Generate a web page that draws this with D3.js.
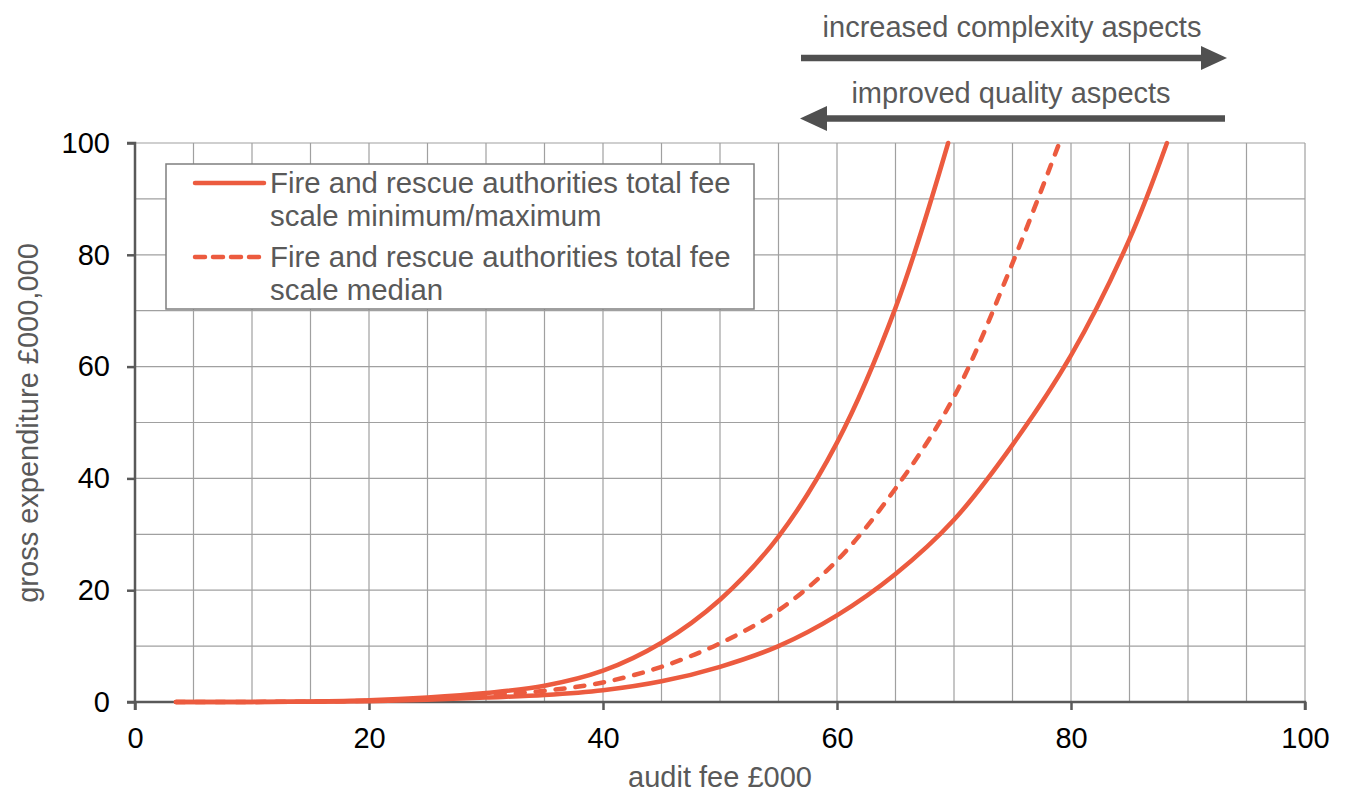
<!DOCTYPE html>
<html><head><meta charset="utf-8">
<script src="https://cdn.jsdelivr.net/npm/d3@7"></script>
<style>body{margin:0;background:#fff;font-family:"Liberation Sans",Arial,sans-serif;}</style>
</head><body><svg id="c" width="1346" height="794"></svg>
<script>
// Data
const maxX = [3.5,10,15,20,25,30,35,40,45,50,55,60,65,69.5];
const maxY = [0,0.02,0.08,0.3,0.8,1.6,2.9,5.6,10.6,18.3,29.6,46.4,70.5,100];
const medX = [3.5,10,15,20,25,30,35,40,45,50,55,60,65,70,75,79];
const medY = [0,0.02,0.06,0.25,0.6,1.2,2.0,3.5,6.3,10.5,16.4,25.3,38.2,54.6,78.5,100];
const minX = [3.5,10,15,20,25,30,35,40,45,50,55,60,65,70,75,80,85,88.2];
const minY = [0,0.01,0.04,0.15,0.4,0.8,1.25,2.1,3.7,6.3,10.0,15.5,22.9,32.6,46,62,82.8,100];
const xTicks = [0,20,40,60,80,100];
const yTicks = [0,20,40,60,80,100];
const legendLabels = [["Fire and rescue authorities total fee","scale minimum/maximum"],["Fire and rescue authorities total fee","scale median"]];
const xTitle = "audit fee £000";
const yTitle = "gross expenditure £000,000";
const arrowLabels = ["increased complexity aspects","improved quality aspects"];

const svg = d3.select("#c");
const L=135,R=1305,T=143,B=702;
const FS=29;
const x = d3.scaleLinear().domain([0,100]).range([L,R]);
const y = d3.scaleLinear().domain([0,100]).range([B,T]);
const red="#EC5B3F", gridC="#a0a0a0", axC="#595959", txtC="#595959";

// grid
svg.append("g").selectAll("line").data(d3.range(5,101,5)).join("line")
  .attr("x1",d=>x(d)).attr("x2",d=>x(d)).attr("y1",T).attr("y2",B)
  .attr("stroke",gridC).attr("stroke-width",1.2);
svg.append("g").selectAll("line").data(d3.range(10,101,10)).join("line")
  .attr("x1",L).attr("x2",R).attr("y1",d=>y(d)).attr("y2",d=>y(d))
  .attr("stroke",gridC).attr("stroke-width",1.2);

// axes
const xa = svg.append("g").attr("transform",`translate(0,${B})`)
  .call(d3.axisBottom(x).tickValues(xTicks).tickSize(8).tickPadding(17));
const ya = svg.append("g").attr("transform",`translate(${L},0)`)
  .call(d3.axisLeft(y).tickValues(yTicks).tickSize(8).tickPadding(17));
[xa,ya].forEach(a=>{
  a.select(".domain").attr("stroke",axC).attr("stroke-width",2.5);
  a.selectAll(".tick line").attr("stroke",axC).attr("stroke-width",2.5);
  a.selectAll(".tick text").attr("fill","#000").attr("font-size",FS).attr("font-family","Liberation Sans, Arial, sans-serif");
});
ya.select(".domain").attr("d",`M-8,${T}H0V${B}H-8`);
xa.select(".domain").attr("d",`M${L},8V0H${R}V8`);

// curves
const line = d3.line().x(d=>x(d[0])).y(d=>y(d[1])).curve(d3.curveCatmullRom.alpha(0.5));
const dash = "9,11";
const series = [
  {xs:maxX, ys:maxY, dash:null},
  {xs:minX, ys:minY, dash:null},
  {xs:medX, ys:medY, dash:dash}
];
series.forEach(s=>{
  svg.append("path").datum(s.xs.map((v,i)=>[v,s.ys[i]]))
    .attr("d",line).attr("fill","none").attr("stroke",red).attr("stroke-width",4.5)
    .attr("stroke-linejoin","round").attr("stroke-linecap","round")
    .attr("stroke-dasharray",s.dash);
});

// legend
const lg = svg.append("g");
lg.append("rect").attr("x",166).attr("y",164).attr("width",588).attr("height",145)
  .attr("fill","#fff").attr("stroke","#7f7f7f").attr("stroke-width",1.5);
legendLabels.forEach((lab,i)=>{
  const ly = 183 + i*74;
  lg.append("line").attr("x1",195).attr("x2",264).attr("y1",ly).attr("y2",ly)
    .attr("stroke",red).attr("stroke-width",4.5).attr("stroke-linecap","round")
    .attr("stroke-dasharray",i===1?"10,8":null);
  lab.forEach((t,j)=>{
    lg.append("text").attr("x",270).attr("y",ly+10+j*33).text(t)
      .attr("fill",txtC).attr("font-size",29.4);
  });
});

// axis titles
svg.append("text").attr("x",720).attr("y",787).attr("text-anchor","middle")
  .attr("fill",txtC).attr("font-size",FS).text(xTitle);
svg.append("text").attr("transform",`translate(38,423) rotate(-90)`)
  .attr("text-anchor","middle").attr("fill",txtC).attr("font-size",FS).text(yTitle);

// arrows
const aC="#505050";
svg.append("text").attr("x",1012).attr("y",37).attr("text-anchor","middle").attr("fill",txtC).attr("font-size",FS).text(arrowLabels[0]);
svg.append("line").attr("x1",801).attr("x2",1205).attr("y1",58).attr("y2",58).attr("stroke",aC).attr("stroke-width",6.5);
svg.append("path").attr("d","M1201,46L1227,58L1201,70Z").attr("fill",aC);
svg.append("text").attr("x",1011).attr("y",103).attr("text-anchor","middle").attr("fill",txtC).attr("font-size",FS).text(arrowLabels[1]);
svg.append("line").attr("x1",1225).attr("x2",822).attr("y1",118.5).attr("y2",118.5).attr("stroke",aC).attr("stroke-width",6.5);
svg.append("path").attr("d","M827,106L800,118.5L827,131Z").attr("fill",aC);
</script></body></html>
